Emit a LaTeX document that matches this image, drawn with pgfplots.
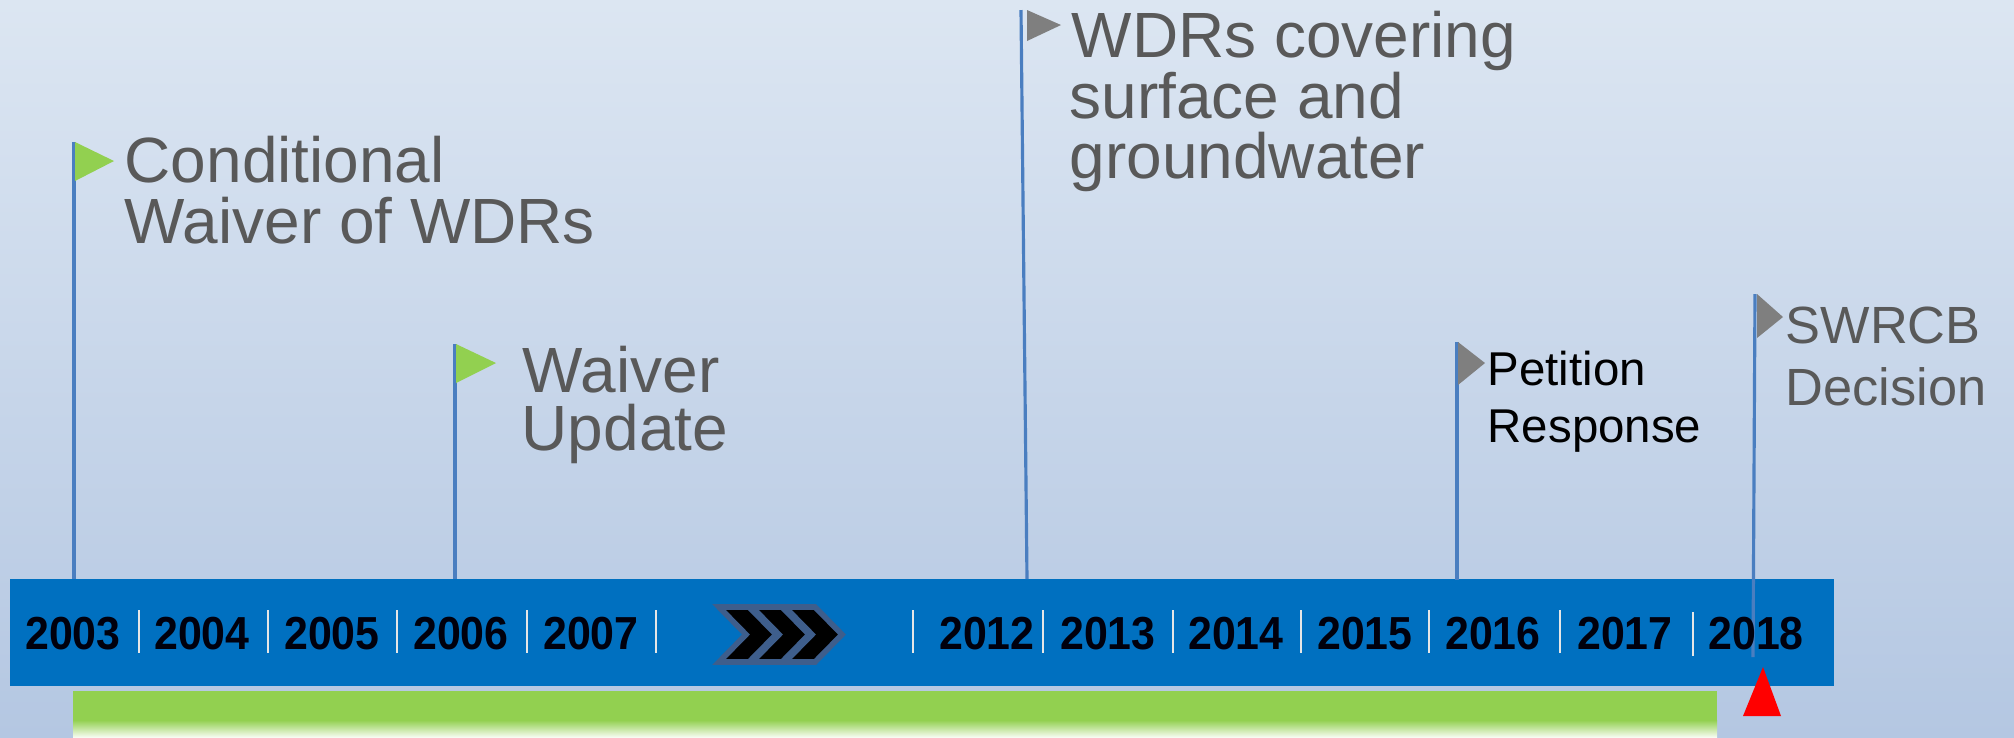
\documentclass[border=0pt]{standalone}
\usepackage{pgfplots}
\pgfplotsset{compat=1.18}
\usepackage{fontspec}
\setmainfont{Liberation Sans}
\definecolor{bgtop}{HTML}{DCE6F2}
\definecolor{bgbot}{HTML}{B4C7E2}
\definecolor{barblue}{HTML}{0070C0}
\definecolor{pole}{HTML}{4A7EC0}
\definecolor{flaggreen}{HTML}{92D050}
\definecolor{flaggray}{HTML}{7F7F7F}
\definecolor{txtgray}{HTML}{595959}
\definecolor{chevedge}{HTML}{3E5E8C}
\definecolor{sep}{HTML}{E6E6E6}
\begin{document}
\begin{tikzpicture}
\begin{axis}[
  scale only axis, width=20.14cm, height=7.37cm,
  xmin=0, xmax=2014, ymin=0, ymax=737, y dir=reverse,
  hide axis, clip=false, axis on top=false]
% background
\addplot[draw=none, top color=bgtop, bottom color=bgbot] coordinates {(0,0) (2014,0) (2014,737) (0,737)} --cycle;
% green bar
\addplot[draw=none, fill=flaggreen] coordinates {(73,691) (1717,691) (1717,721) (73,721)} --cycle;
\addplot[draw=none, top color=flaggreen, bottom color=flaggreen!8!white] coordinates {(73,720) (1717,720) (1717,737) (73,737)} --cycle;
% blue bar
\addplot[draw=none, fill=barblue] coordinates {(10,579) (1834,579) (1834,686) (10,686)} --cycle;
% separators
\foreach \s in {139,268,397,527,656,913,1043,1173,1301,1429,1560}{
  \edef\tmp{\noexpand\addplot[sep, line width=0.6pt] coordinates {(\s,610) (\s,653)};}\tmp
}
\addplot[sep, line width=0.6pt] coordinates {(1693,612) (1693,656)};
% chevrons
\foreach \c in {719,752,785}{
  \edef\tmp{\noexpand\addplot[fill=black, draw=chevedge, line width=1.6pt, line join=miter] coordinates {(\c,607) (\c+30,607) (\c+57,634.5) (\c+30,662) (\c,662) (\c+27,634.5)} --cycle;}\tmp
}
% poles
\addplot[pole, line width=0.9pt] coordinates {(74,142) (74,579)};
\addplot[pole, line width=0.9pt] coordinates {(455,344) (455,579)};
\addplot[pole, line width=0.9pt] coordinates {(1021,10) (1027,579)};
\addplot[pole, line width=0.9pt] coordinates {(1457,342) (1457,580)};
\addplot[pole, line width=0.9pt] coordinates {(1755,294) (1753,657)};
% flags
\addplot[draw=none, fill=flaggreen] coordinates {(75,142) (114,161) (75,181)} --cycle;
\addplot[draw=none, fill=flaggreen] coordinates {(456,344) (496,363) (456,383)} --cycle;
\addplot[draw=none, fill=flaggray] coordinates {(1027,10) (1061,25) (1027,41)} --cycle;
\addplot[draw=none, fill=flaggray] coordinates {(1458,342) (1485,363) (1458,385)} --cycle;
\addplot[draw=none, fill=flaggray] coordinates {(1757,294) (1783,317) (1757,338)} --cycle;
% red triangle
\addplot[draw=none, fill=red] coordinates {(1763,667) (1781,716) (1743,716)} --cycle;
% year labels
\foreach \x/\y in {73/2003,202/2004,332/2005,461/2006,591/2007,987/2012,1108/2013,1236/2014,1365/2015,1493/2016,1625/2017,1756/2018}{
  \edef\tmp{\noexpand\node[anchor=base, inner sep=0pt, yscale=1.08, text=black!95!blue, font=\noexpand\fontsize{12.2}{12.2}\noexpand\selectfont\noexpand\bfseries] at (axis cs:\x,649) {\y};}\tmp
}
% event texts
\begin{scope}[every node/.style={anchor=base west, inner sep=0pt}]
\node[text=txtgray, font=\fontsize{18.2}{18.2}\selectfont] at (axis cs:124,182) {Conditional};
\node[text=txtgray, font=\fontsize{18.2}{18.2}\selectfont] at (axis cs:124,243) {Waiver of WDRs};
\node[text=txtgray, font=\fontsize{18.2}{18.2}\selectfont] at (axis cs:522,392) {Waiver};
\node[text=txtgray, font=\fontsize{18.2}{18.2}\selectfont] at (axis cs:521,450) {Update};
\node[text=txtgray, font=\fontsize{18.2}{18.2}\selectfont] at (axis cs:1071,57) {WDRs covering};
\node[text=txtgray, font=\fontsize{18.2}{18.2}\selectfont] at (axis cs:1069,118) {surface and};
\node[text=txtgray, font=\fontsize{18.2}{18.2}\selectfont] at (axis cs:1069,178) {groundwater};
\node[text=black, font=\fontsize{13.5}{13.5}\selectfont] at (axis cs:1487,385) {Petition};
\node[text=black, font=\fontsize{13.5}{13.5}\selectfont] at (axis cs:1487,442) {Response};
\node[text=txtgray, font=\fontsize{14.9}{14.9}\selectfont] at (axis cs:1785,343) {SWRCB};
\node[text=txtgray, font=\fontsize{14.9}{14.9}\selectfont] at (axis cs:1785,405) {Decision};
\end{scope}
\end{axis}
\end{tikzpicture}
\end{document}
